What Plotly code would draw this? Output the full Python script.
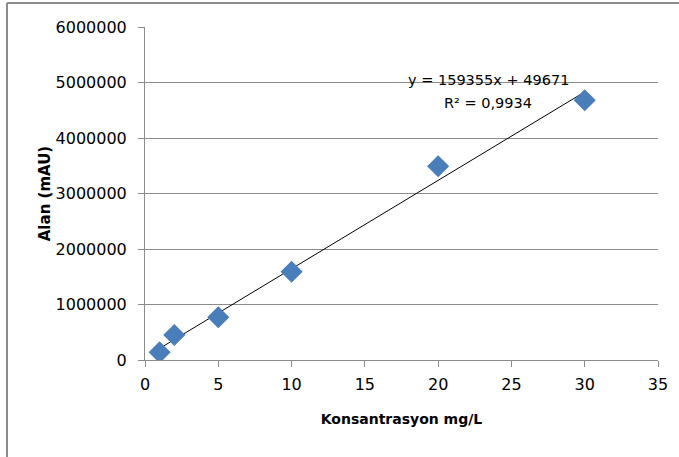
import plotly.graph_objects as go

# Data
konsantrasyon = [1, 2, 5, 10, 20, 30]
alan = [140000, 450000, 770000, 1590000, 3490000, 4680000]
slope = 159355
intercept = 49671
r2_text = "0,9934"
x_ticks = [0, 5, 10, 15, 20, 25, 30, 35]
y_ticks = [0, 1000000, 2000000, 3000000, 4000000, 5000000, 6000000]

trend_x = [min(konsantrasyon), max(konsantrasyon)]
trend_y = [slope * v + intercept for v in trend_x]

W, H = 679, 457
L, R, T, B = 145, 21, 27, 97
pw, ph = W - L - R, H - T - B

def px_to_paper_x(px):
    return (px - L) / pw

def px_to_paper_y(py):
    return (H - B - py) / ph

font = "DejaVu Sans"
grid = "#8c8c8c"

fig = go.Figure()
fig.add_trace(go.Scatter(
    x=trend_x, y=trend_y, mode="lines",
    line=dict(color="#000000", width=1), showlegend=False, hoverinfo="skip"))
fig.add_trace(go.Scatter(
    x=konsantrasyon, y=alan, mode="markers",
    marker=dict(symbol="diamond", size=17, color="#4A7EBB",
                line=dict(width=0)),
    showlegend=False))

fig.add_annotation(
    x=px_to_paper_x(488), y=px_to_paper_y(80), xref="paper", yref="paper",
    xanchor="center", yanchor="middle",
    text=f"y = {slope}x + {intercept}", showarrow=False,
    font=dict(family=font, size=14.5, color="#000000"))
fig.add_annotation(
    x=px_to_paper_x(488), y=px_to_paper_y(103), xref="paper", yref="paper",
    xanchor="center", yanchor="middle",
    text=f"R² = {r2_text}", showarrow=False,
    font=dict(family=font, size=14.5, color="#000000"))

# Outer chart border (left and top)
fig.add_shape(type="line", xref="paper", yref="paper",
              x0=px_to_paper_x(7), y0=px_to_paper_y(3),
              x1=px_to_paper_x(W + 5), y1=px_to_paper_y(3),
              line=dict(color="#8c8c8c", width=2))
fig.add_shape(type="line", xref="paper", yref="paper",
              x0=px_to_paper_x(7), y0=px_to_paper_y(3),
              x1=px_to_paper_x(7), y1=px_to_paper_y(H + 5),
              line=dict(color="#8c8c8c", width=2))

fig.update_layout(
    width=W, height=H,
    margin=dict(l=L, r=R, t=T, b=B, autoexpand=False),
    paper_bgcolor="white", plot_bgcolor="white",
    font=dict(family=font, size=14, color="#000000"),
    xaxis=dict(
        range=[0, 35], tickvals=x_ticks, showgrid=False, zeroline=False,
        showline=True, linecolor=grid, linewidth=1,
        ticks="outside", ticklen=6, tickcolor=grid,
        ticklabelstandoff=4,
        tickfont=dict(family=font, size=16, color="#000000"),
        title=dict(text="<b>Konsantrasyon mg/L</b>", standoff=20,
                   font=dict(family=font, size=14, color="#000000")),
    ),
    yaxis=dict(
        range=[0, 6000000], tickvals=y_ticks, tickformat="d",
        showgrid=True, gridcolor=grid, gridwidth=1, zeroline=False,
        showline=True, linecolor=grid, linewidth=1,
        ticks="outside", ticklen=6, tickcolor=grid,
        ticklabelstandoff=8,
        tickfont=dict(family=font, size=16, color="#000000"),
        title=dict(text="<b>Alan (mAU)</b>", standoff=1,
                   font=dict(family=font, size=15, color="#000000")),
    ),
)

fig.write_html("out.html")
